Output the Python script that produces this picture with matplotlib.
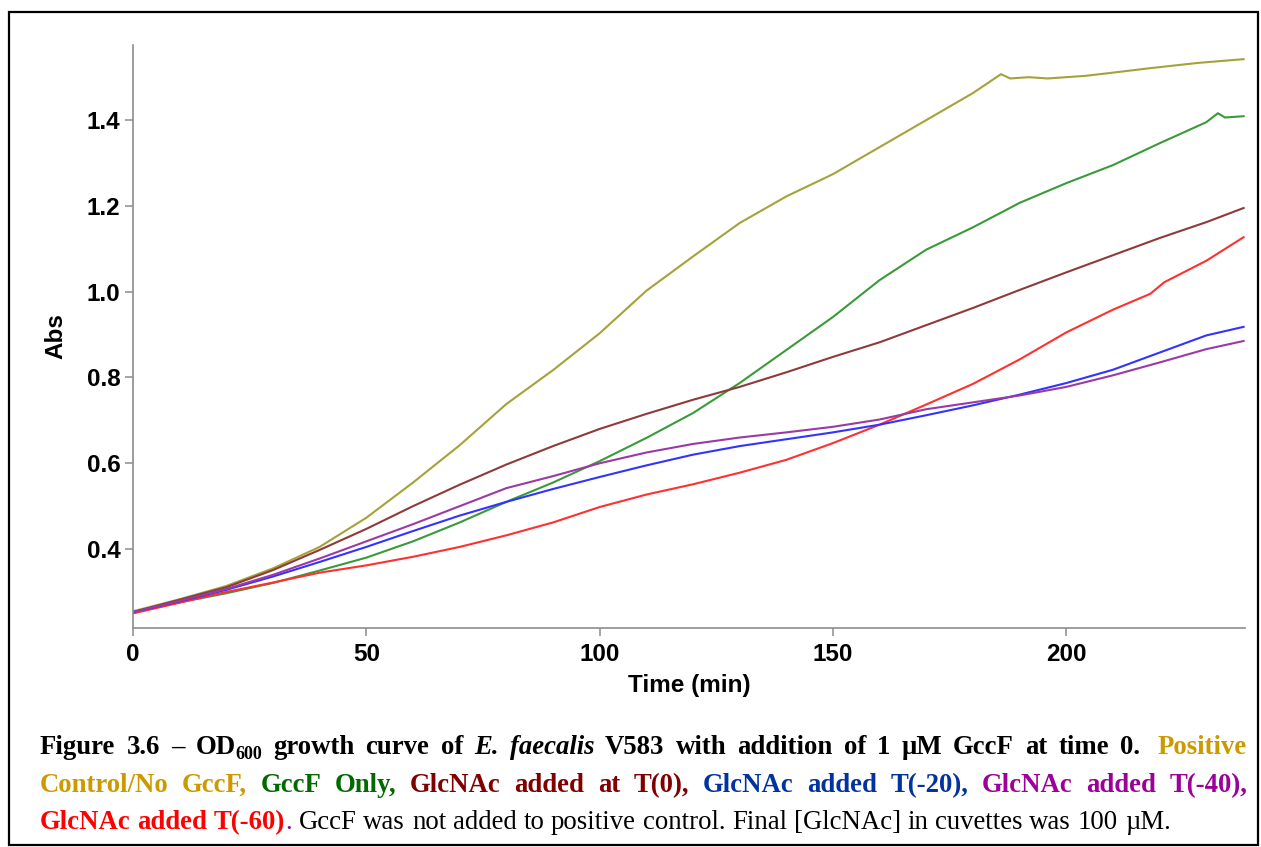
import matplotlib
matplotlib.use("Agg")
import matplotlib.pyplot as plt
from matplotlib.patches import Rectangle

# ---------------- data ----------------
t_pos = [0, 10, 20, 30, 40, 50, 60, 70, 80, 90, 100, 110, 120, 130, 140, 150, 160, 170, 180,
         186, 188, 192, 196, 200, 204, 208, 218, 228, 238]
v_pos = [0.255, 0.283, 0.314, 0.355, 0.405, 0.473, 0.555, 0.642, 0.738, 0.817, 0.903, 1.002,
         1.082, 1.160, 1.222, 1.274, 1.337, 1.400, 1.463, 1.507, 1.497, 1.500, 1.497, 1.500,
         1.503, 1.508, 1.521, 1.533, 1.542]

t_gccf = [0, 10, 20, 30, 40, 50, 60, 70, 80, 90, 100, 110, 120, 130, 140, 150, 160, 170, 180,
          190, 200, 210, 220, 230, 232.5, 234, 238]
v_gccf = [0.253, 0.276, 0.297, 0.321, 0.350, 0.380, 0.418, 0.462, 0.510, 0.555, 0.605, 0.659,
          0.717, 0.787, 0.864, 0.941, 1.027, 1.098, 1.150, 1.207, 1.253, 1.295, 1.346, 1.395,
          1.416, 1.406, 1.409]

t_std = [0, 10, 20, 30, 40, 50, 60, 70, 80, 90, 100, 110, 120, 130, 140, 150, 160, 170, 180,
         190, 200, 210, 220, 230, 238]
v_t0 = [0.253, 0.282, 0.311, 0.351, 0.398, 0.447, 0.500, 0.550, 0.597, 0.640, 0.680, 0.715,
        0.748, 0.778, 0.812, 0.848, 0.882, 0.922, 0.962, 1.004, 1.045, 1.085, 1.125, 1.162, 1.195]
v_t20 = [0.253, 0.278, 0.305, 0.336, 0.370, 0.405, 0.442, 0.478, 0.510, 0.540, 0.568, 0.595,
         0.620, 0.640, 0.656, 0.672, 0.690, 0.712, 0.735, 0.760, 0.787, 0.818, 0.858, 0.898, 0.918]
v_t40 = [0.253, 0.279, 0.307, 0.340, 0.378, 0.418, 0.458, 0.500, 0.542, 0.570, 0.600, 0.625,
         0.645, 0.660, 0.672, 0.685, 0.702, 0.726, 0.742, 0.758, 0.778, 0.805, 0.835, 0.866, 0.885]

t_t60 = [0, 10, 20, 30, 40, 50, 60, 70, 80, 90, 100, 110, 120, 130, 140, 150, 160, 170, 180,
         190, 200, 210, 218, 221, 230, 238]
v_t60 = [0.250, 0.275, 0.300, 0.322, 0.345, 0.362, 0.382, 0.405, 0.432, 0.462, 0.498, 0.527,
         0.551, 0.578, 0.608, 0.647, 0.690, 0.737, 0.785, 0.842, 0.905, 0.958, 0.995, 1.022,
         1.072, 1.127]

x_ticks = [0, 50, 100, 150, 200]
y_ticks = [0.4, 0.6, 0.8, 1.0, 1.2, 1.4]
x_label = "Time (min)"
y_label = "Abs"

# ---------------- figure ----------------
W, H = 1261, 847
DPI = 100
fig = plt.figure(figsize=(W / DPI, H / DPI), dpi=DPI)
fig.patch.set_facecolor("white")

ax = fig.add_axes([133 / W, 1 - 628 / H, (1245 - 133) / W, (628 - 45) / H])
series = [
    (t_pos, v_pos, "#a3a33a"),
    (t_gccf, v_gccf, "#3a9a3a"),
    (t_std, v_t0, "#8e3a3a"),
    (t_t60, v_t60, "#ff3030"),
    (t_std, v_t20, "#3333ff"),
    (t_std, v_t40, "#9a3aa5"),
]
for tx, vy, c in series:
    ax.plot(tx, vy, color=c, lw=1.5, solid_joinstyle="round")

ax.set_xlim(0, 238.3)
ax.set_ylim(0.216, 1.575)
ax.set_xticks(x_ticks)
ax.set_yticks(y_ticks)
ax.set_yticklabels([f"{v:.1f}" for v in y_ticks])
for s in ["top", "right"]:
    ax.spines[s].set_visible(False)
for s in ["left", "bottom"]:
    ax.spines[s].set_color("#8c8c8c")
    ax.spines[s].set_linewidth(1.2)

TFS = 17.5
tick_font = dict(family="Liberation Sans", weight="bold", size=TFS)
ax.tick_params(axis="both", direction="out", length=6, width=1.1, color="#8c8c8c",
               labelcolor="black")
ax.tick_params(axis="x", pad=5)
ax.tick_params(axis="y", pad=3)
for lab in ax.get_xticklabels() + ax.get_yticklabels():
    lab.set_fontproperties(tick_font)
    lab.set_fontsize(TFS)

ax.set_xlabel(x_label, fontfamily="Liberation Sans", fontweight="bold", fontsize=TFS)
ax.set_ylabel(y_label, fontfamily="Liberation Sans", fontweight="bold", fontsize=TFS)
ax.xaxis.set_label_coords(0.5, -(674 - 628) / (628 - 45))
ax.yaxis.set_label_coords(-(133 - 67) / (1245 - 133), 0.5)

# frame around whole figure
fig.add_artist(Rectangle((9 / W, 1 - 845 / H), (1258 - 9) / W, (845 - 12) / H,
                         transform=fig.transFigure, fill=False, lw=1.6, ec="black"))

# ---------------- caption (justified words) ----------------
renderer = fig.canvas.get_renderer()
FS = 19.3
SUB = 13
B = dict(family="Liberation Serif", weight="bold", size=FS)
BI = dict(family="Liberation Serif", weight="bold", style="italic", size=FS)
R = dict(family="Liberation Serif", weight="normal", size=FS)

GOLD = "#cc9a00"
GREEN = "#006a00"
MAROON = "#800000"
BLUE = "#0033a0"
PURPLE = "#9b009b"
RED = "#ff0000"
BLACK = "black"


def width(text, props):
    t = fig.text(0, 0, text, **props)
    w = t.get_window_extent(renderer).width
    t.remove()
    return w


def space_w(props):
    return width("n n", props) - width("nn", props)


def seg(text, props, color, dy=0, size=None):
    p = dict(props)
    if size is not None:
        p["size"] = size
    return (text, p, color, dy)


def word_w(word):
    return sum(width(s[0], s[1]) for s in word)


def draw_word(word, x, y):
    for text, props, color, dy in word:
        fig.text(x / W, 1 - (y + dy) / H, text, color=color, ha="left", va="baseline", **props)
        x += width(text, props)


def draw_line(words, y, x0, x1=None, extra=None):
    widths = [word_w(w) for w in words]
    extra = extra or {}
    if x1 is None:
        gap = space_w(R)
    else:
        extra_total = sum(extra.values())
        gap = (x1 - x0 - sum(widths) - extra_total) / (len(words) - 1)
    x = x0
    for i, w in enumerate(words):
        draw_word(w, x, y)
        x += widths[i] + gap + extra.get(i, 0)


def words_of(text, props, color):
    return [[seg(w, props, color)] for w in text.split(" ")]


line1 = (words_of("Figure 3.6 \u2013", B, BLACK)
         + [[seg("OD", B, BLACK), seg("600", B, BLACK, dy=5, size=SUB)]]
         + words_of("growth curve of", B, BLACK)
         + words_of("E. faecalis", BI, BLACK)
         + words_of("V583 with addition of 1 \u00b5M GccF at time 0.", B, BLACK)
         + words_of("Positive", B, GOLD))
idx_pos = len(line1) - 2
line2 = (words_of("Control/No GccF,", B, GOLD)
         + words_of("GccF Only,", B, GREEN)
         + words_of("GlcNAc added at T(0),", B, MAROON)
         + words_of("GlcNAc added T(-20),", B, BLUE)
         + words_of("GlcNAc added T(-40),", B, PURPLE))
line3 = (words_of("GlcNAc added", B, RED)
         + [[seg("T(-60)", B, RED), seg(".", R, PURPLE)]]
         + words_of("GccF was not added to positive control. Final [GlcNAc] in cuvettes was 100 \u00b5M.", R, BLACK))

X0, X1 = 40, 1247
draw_line(line1, 754, X0, X1, extra={idx_pos: space_w(B)})
draw_line(line2, 792, X0, X1)
draw_line(line3, 829, X0, None)

fig.savefig("out.png", dpi=DPI, facecolor="white")
